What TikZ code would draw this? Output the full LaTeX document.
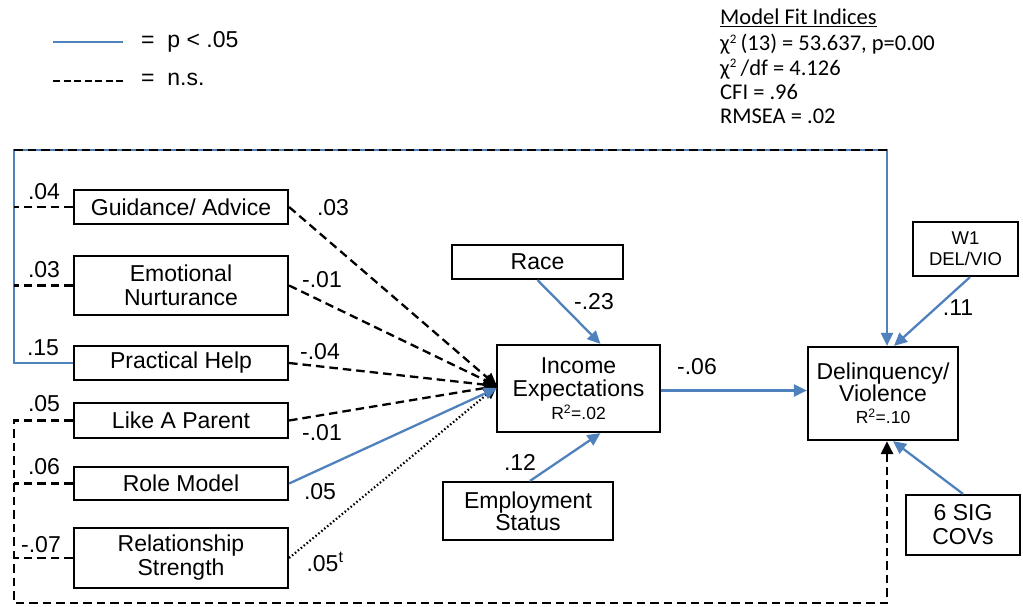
\documentclass[tikz,border=0pt]{standalone}
\usepackage{fontspec}
\setmainfont{Liberation Sans}
\newfontfamily\fitfont{Carlito}
\usetikzlibrary{arrows.meta}
\definecolor{sigblue}{RGB}{79,129,189}
\begin{document}
\begin{tikzpicture}[x=1pt,y=-1pt,
  font=\fontsize{23}{24}\selectfont,
  box/.style={draw=black, line width=2.2pt, align=center, inner sep=0pt, fill=white},
  sig/.style={draw=sigblue, line width=2.3pt},
  ns/.style={draw=black, line width=2.3pt, dash pattern=on 8.5pt off 5pt},
  dotl/.style={draw=black, line width=2.2pt, dash pattern=on 1.5pt off 2.3pt},
  tipb/.style={-{Triangle[length=13pt,width=12pt]}},
  lbl/.style={inner sep=0pt, anchor=center},
  fit/.style={anchor=base west, inner sep=0pt, font=\fitfont\fontsize{22.5}{24}\selectfont}
]
\useasboundingbox (0,0) rectangle (1023,607);

% legend
\coordinate (lgsa) at (53,42);
\coordinate (lgsb) at (123,42);
\coordinate (lgda) at (53,81);
\coordinate (lgdb) at (123,81);
\draw[sig] (lgsa) -- (lgsb);
\draw[ns, dash pattern=on 7pt off 3.5pt] (lgda) -- (lgdb);
\node[anchor=west, inner sep=0pt] (lgst) at (141,42) {= \ p < .05};
\node[anchor=west, inner sep=0pt] (lgdt) at (141,79) {= \ n.s.};

% model fit indices
\node[fit] (f1) at (720,25) {\underline{Model Fit Indices}};
\node[fit] (f2) at (720,51) {χ\textsuperscript{\fontsize{13}{13}\selectfont 2}\,(13) = 53.637, p=0.00};
\node[fit] (f3) at (720,75.5) {χ\textsuperscript{\fontsize{13}{13}\selectfont 2}\,/df = 4.126};
\node[fit] (f4) at (720,100) {CFI = .96};
\node[fit] (f5) at (720,124) {RMSEA = .02};

% mentoring boxes
\node[box, minimum width=214pt, minimum height=34pt] (gd) at (181,207) {Guidance/ Advice};
\node[box, minimum width=214pt, minimum height=59pt] (en) at (181,285.5) {Emotional\\Nurturance};
\node[box, minimum width=214pt, minimum height=34pt] (ph) at (181,363) {Practical Help};
\node[box, minimum width=214pt, minimum height=35pt] (lp) at (181,420.5) {Like A Parent};
\node[box, minimum width=214pt, minimum height=33pt] (rm) at (181,483.5) {Role Model};
\node[box, minimum width=214pt, minimum height=60pt] (rs) at (181,558) {Relationship\\Strength};

% central and outcome boxes
\node[box, minimum width=171pt, minimum height=34pt] (race) at (537.5,262) {Race};
\node[box, minimum width=163pt, minimum height=87pt, font=\fontsize{23}{23}\selectfont] (ie) at (578.5,388.5)
  {Income\\Expectations\\{\fontsize{17.5}{21}\selectfont R\textsuperscript{2}=.02}};
\node[box, minimum width=170pt, minimum height=58pt, font=\fontsize{23}{22}\selectfont] (emp) at (528,511) {Employment\\Status};
\node[box, minimum width=150pt, minimum height=93pt, font=\fontsize{23}{22}\selectfont] (dv) at (883,393.5)
  {Delinquency/\\Violence\\{\fontsize{17.5}{21}\selectfont R\textsuperscript{2}=.10}};
\node[box, minimum width=105pt, minimum height=54pt, font=\fontsize{18.5}{21}\selectfont] (w1) at (965.5,249) {W1\\DEL/VIO};
\node[box, minimum width=114pt, minimum height=60pt, font=\fontsize{23}{24}\selectfont] (cov) at (963,525) {6 SIG\\COVs};

% convergence points on Income Expectations
\coordinate (cv) at (497,386);
\coordinate (cvb) at (497,388);

% paths into Income Expectations
\draw[ns, tipb] (gd.east) -- (cv);
\draw[ns, tipb] (en.east) -- (cv);
\draw[ns, tipb] (ph.east) -- (cv);
\draw[ns, tipb] (lp.east) -- (cv);
\draw[dotl, tipb] (rs.east) -- (cv);
\draw[sig, tipb] (rm.east) -- (cvb);
\draw[sig, tipb] (race.south) -- ([xshift=22pt]ie.north);
\draw[sig, tipb] ([xshift=2pt]emp.north) -- ([xshift=22pt]ie.south);

% paths into Delinquency/Violence
\draw[sig, tipb] ([yshift=-2pt]ie.east) -- ([yshift=-2pt]ie.east -| dv.west);
\draw[sig, tipb] ([xshift=4.5pt]w1.south) -- ([xshift=11pt]dv.north);
\draw[sig, tipb] (cov.north) -- ([xshift=10pt]dv.south);

% direct paths around the model
\coordinate (tl) at (14,150);
\coordinate (tr) at (887,150);
\coordinate (bl) at (14,603);
\coordinate (br) at (887,603);
\draw[sig, tipb] (ph.west) -| (tl) -- (tr) -- (tr |- dv.north);
\draw[ns] (tl) -- (tr);
\draw[ns] (gd.west) -- (gd.west -| tl);
\draw[ns] (en.west) -- (en.west -| tl);
\draw[ns, line width=2.8pt, tipb] (lp.west) -| (bl) -- (br) -- (br |- dv.south);
\draw[ns] (rm.west) -- (rm.west -| bl);
\draw[ns] (rs.west) -- (rs.west -| bl);

% coefficients
\node[lbl] (c1) at (44,192) {.04};
\node[lbl] (c2) at (44,270) {.03};
\node[lbl] (c3) at (43,348) {.15};
\node[lbl] (c4) at (44,404) {.05};
\node[lbl] (c5) at (44,467) {.06};
\node[lbl] (c6) at (41,545) {-.07};
\node[lbl] (c7) at (333,208) {.03};
\node[lbl] (c8) at (322,280) {-.01};
\node[lbl] (c9) at (320,352) {-.04};
\node[lbl] (c10) at (322,433) {-.01};
\node[lbl] (c11) at (320,492) {.05};
\node[lbl] (c12) at (325,562) {.05\textsuperscript{t}};
\node[lbl] (c13) at (594,302) {-.23};
\node[lbl] (c14) at (520,462) {.12};
\node[lbl] (c15) at (697,367) {-.06};
\node[lbl] (c16) at (958,308) {.11};
\end{tikzpicture}
\end{document}
